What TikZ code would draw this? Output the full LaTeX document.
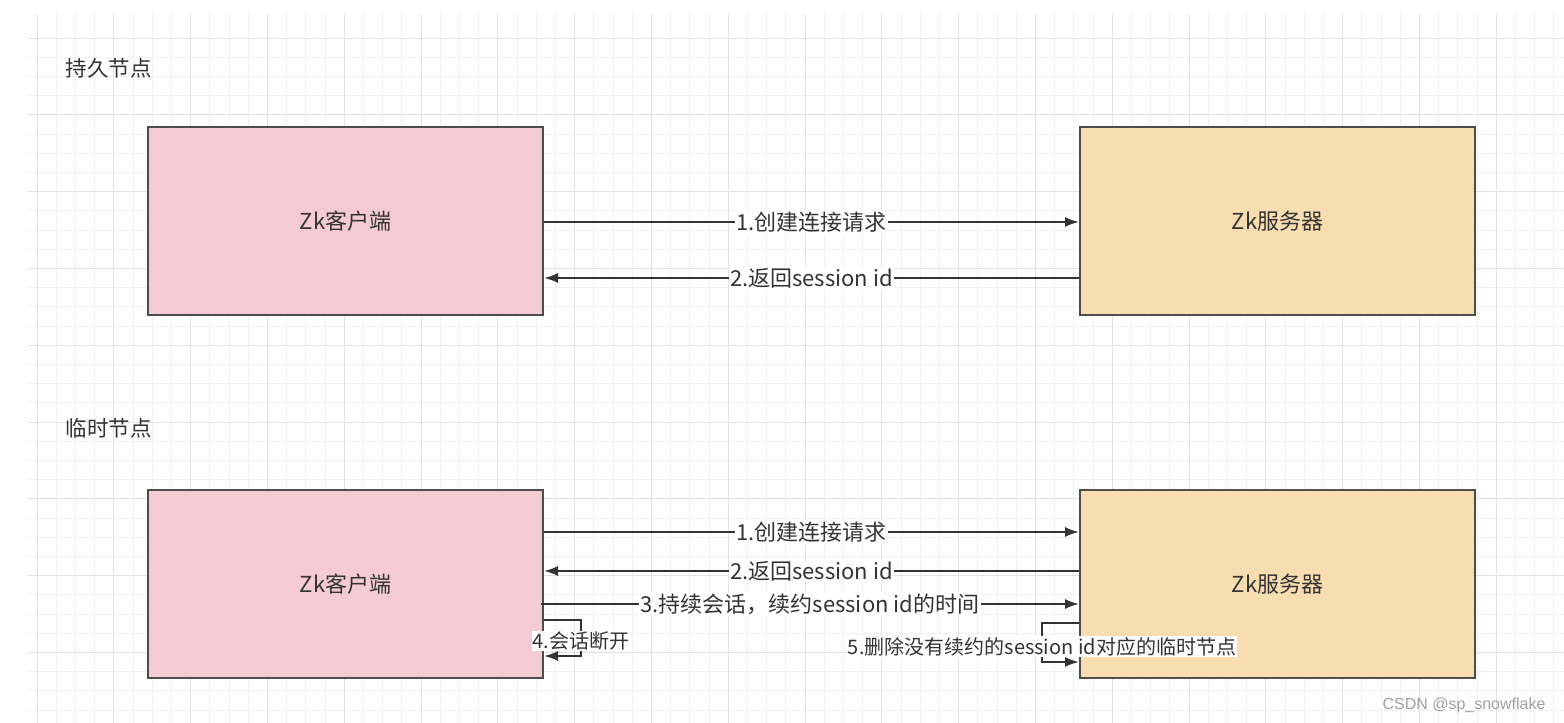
\documentclass[tikz,border=0pt]{standalone}
\usepackage{fontspec}
\setmainfont{Noto Sans CJK SC}
\newfontfamily\wmfont{Liberation Sans}
\usetikzlibrary{arrows.meta}
\definecolor{clientpink}{RGB}{245,203,211}
\definecolor{serverorange}{RGB}{248,221,177}
\definecolor{boxline}{RGB}{77,77,77}
\definecolor{textgrey}{RGB}{51,51,51}
\definecolor{gridminor}{RGB}{240,240,240}
\definecolor{gridmajor}{RGB}{226,226,226}
\begin{document}
\begin{tikzpicture}[x=1pt, y=-1pt,
    box/.style={draw=boxline, line width=2pt, inner sep=0pt, minimum width=395pt, minimum height=188pt, text=textgrey, font=\fontsize{22}{26}\selectfont},
    client/.style={box, fill=clientpink},
    server/.style={box, fill=serverorange},
    msg/.style={draw=textgrey, line width=1.9pt, ->, >={Latex[length=14pt,width=10pt]}},
    msglabel/.style={fill=white, inner sep=1.5pt, text=textgrey, font=\fontsize{22}{26}\selectfont},
    smalllabel/.style={msglabel, inner sep=1pt, font=\fontsize{20}{24}\selectfont},
    title/.style={anchor=west, text=textgrey, font=\fontsize{21.5}{25}\selectfont}]
    \useasboundingbox (0,0) rectangle (1564,723);
    % grid
    \foreach \k in {0,...,79}
      \draw[gridminor, line width=0.8pt] ({37+19.2*\k},14) -- ({37+19.2*\k},723);
    \foreach \k in {0,...,35}
      \draw[gridminor, line width=0.8pt] (27,{38+19.2*\k}) -- (1564,{38+19.2*\k});
    \foreach \k in {0,4,...,76}
      \draw[gridmajor, line width=0.8pt] ({37+19.2*\k},14) -- ({37+19.2*\k},723);
    \foreach \k in {0,4,...,32}
      \draw[gridmajor, line width=0.8pt] (27,{38+19.2*\k}) -- (1564,{38+19.2*\k});

    % persistent node
    \node(persist) at (62,68) [title] {持久节点};
    \node(cliA) at (345.5,221) [client] {Zk客户端};
    \node(srvA) at (1277.5,221) [server] {Zk服务器};
    \draw[msg] ([yshift=-1pt]cliA.east) -- node[msglabel] {1.创建连接请求} ([yshift=-1pt]srvA.west);
    \draw[msg] ([yshift=-57pt]srvA.west) -- node[msglabel] {2.返回session id} ([yshift=-57pt]cliA.east);

    % ephemeral node
    \node(temp) at (62,428) [title] {临时节点};
    \node(cliB) at (345.5,584) [client] {Zk客户端};
    \node(srvB) at (1277.5,584) [server] {Zk服务器};
    \draw[msg] ([yshift=52pt]cliB.east) -- node[msglabel] {1.创建连接请求} ([yshift=52pt]srvB.west);
    \draw[msg] ([yshift=13pt]srvB.west) -- node[msglabel] {2.返回session id} ([yshift=13pt]cliB.east);
    \draw[msg] ([xshift=-3pt,yshift=-20pt]cliB.east) -- node[msglabel] {3.持续会话，续约session id的时间} ([yshift=-20pt]srvB.west);
    \draw[msg] ([yshift=-36pt]cliB.east) -- ++(37,0) |- node[pos=0.29, smalllabel] {4.会话断开} ([yshift=-72pt]cliB.east);
    \draw[msg] ([yshift=-39pt]srvB.west) -- ++(-37,0) |- node[pos=0.3, smalllabel] {5.删除没有续约的session id对应的临时节点} ([yshift=-78pt]srvB.west);

    \node(mark) at (1464,705) [text=gray!75, font=\wmfont\fontsize{16}{18}\selectfont] {CSDN @sp\_snowflake};
\end{tikzpicture}
\end{document}
